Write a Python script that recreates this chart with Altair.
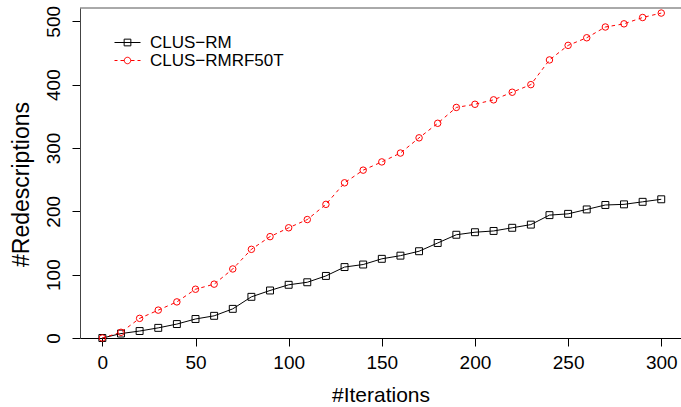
import altair as alt
import pandas as pd

# Iteration checkpoints and cumulative redescription counts per method
iterations = [0, 10, 20, 30, 40, 50, 60, 70, 80, 90, 100, 110, 120, 130, 140, 150,
              160, 170, 180, 190, 200, 210, 220, 230, 240, 250, 260, 270, 280, 290, 300]
clus_rm = [0, 7, 11, 16, 22, 30, 35, 46, 65, 75, 84, 88, 98, 112, 116, 125,
           130, 137, 150, 163, 167, 169, 174, 179, 194, 196, 203, 210, 211, 215, 219]
clus_rmrf50t = [0, 9, 31, 44, 57, 77, 85, 109, 140, 160, 174, 187, 211, 245, 265, 278,
                292, 316, 339, 364, 369, 376, 388, 400, 439, 462, 474, 491, 496, 506, 513]

series_names = ["CLUS\u2212RM", "CLUS\u2212RMRF50T"]
series_colors = ["#000000", "#FF0000"]

df = pd.DataFrame({
    "iter": iterations * 2,
    "count": clus_rm + clus_rmrf50t,
    "method": [series_names[0]] * len(iterations) + [series_names[1]] * len(iterations),
})

FONT = "Liberation Sans"
W, H = 601, 330

x_enc = alt.X("iter:Q", scale=alt.Scale(domain=[-12, 310.6], nice=False, zero=False),
              axis=alt.Axis(values=[0, 50, 100, 150, 200, 250, 300], title="#Iterations",
                            grid=False, domainColor="#000000", tickColor="#000000",
                            tickSize=8, labelPadding=22, labelBaseline="alphabetic",
                            labelFontSize=19, labelColor="#000000", titleFontSize=21,
                            titleFont=FONT, labelFont=FONT, titleColor="#000000",
                            titleFontWeight="normal", titlePadding=12, labelFlush=False))
y_enc = alt.Y("count:Q", scale=alt.Scale(domain=[0, 521], nice=False),
              axis=alt.Axis(values=[0, 100, 200, 300, 400, 500], title="#Redescriptions",
                            grid=False, domainColor="#444444", tickColor="#000000",
                            tickSize=8, labelAngle=-90, labelAlign="center",
                            labelBaseline="alphabetic", labelPadding=13,
                            labelFontSize=19, labelColor="#000000", titleFontSize=23,
                            titleFont=FONT, labelFont=FONT, titleColor="#000000",
                            titleFontWeight="normal", titleAngle=270, titleAlign="center",
                            titleBaseline="alphabetic", titleX=-51.5, titleY=176,
                            labelFlush=False))

base = alt.Chart(df)

line_rm = base.transform_filter(alt.datum.method == series_names[0]).mark_line(
    color=series_colors[0], strokeWidth=1).encode(x=x_enc, y=y_enc)
line_rf = base.transform_filter(alt.datum.method == series_names[1]).mark_line(
    color=series_colors[1], strokeWidth=1, strokeDash=[3.5, 3.5]).encode(x=x_enc, y=y_enc)
pts_rm = base.transform_filter(alt.datum.method == series_names[0]).mark_point(
    shape="square", filled=False, color=series_colors[0], size=48, strokeWidth=1,
    opacity=1).encode(x=x_enc, y=y_enc)
pts_rf = base.transform_filter(alt.datum.method == series_names[1]).mark_point(
    shape="circle", filled=False, color=series_colors[1], size=42, strokeWidth=1,
    opacity=1).encode(x=x_enc, y=y_enc)

# Legend glyphs: a line segment with the series marker drawn on it
sym_rm = "M-2.6,0H2.6M-0.67,-0.67H0.67V0.67H-0.67Z"
sym_rf = ("M-2.6,0H-2.0M-1.4,0H-0.65M-0.65,0A0.65,0.65,0,1,1,0.65,0A0.65,0.65,0,1,1,-0.65,0"
          "M0.65,0H1.4M2.0,0H2.6")

legend_layer = base.mark_point(filled=False, opacity=0, size=1).encode(
    x=x_enc, y=y_enc,
    color=alt.Color("method:N", scale=alt.Scale(domain=series_names, range=series_colors),
                    legend=alt.Legend(title=None, orient="none", legendX=39, legendY=26,
                                      symbolSize=100, symbolOpacity=1,
                                      symbolStrokeWidth=1, symbolFillColor="transparent",
                                      labelFontSize=17, labelFont=FONT,
                                      labelColor="#000000", labelOffset=14,
                                      rowPadding=0, padding=0)),
    shape=alt.Shape("method:N", scale=alt.Scale(domain=series_names, range=[sym_rm, sym_rf]),
                    legend=None),
)

top_line = alt.Chart(pd.DataFrame({"k": [0]})).mark_rule(color="#555555", strokeWidth=1).encode(
    x=alt.value(0), x2=alt.value(W), y=alt.value(0))

chart = alt.layer(line_rm, line_rf, pts_rm, pts_rf, legend_layer, top_line).properties(
    width=W, height=H,
    autosize=alt.AutoSizeParams(type="none"),
    padding={"left": 80, "top": 8, "right": 0, "bottom": 69},
    background="#FFFFFF",
).configure_view(stroke=None).configure_axis(domainWidth=1, tickWidth=1)

chart.save("out.html", embed_options={"renderer": "svg", "actions": False})
